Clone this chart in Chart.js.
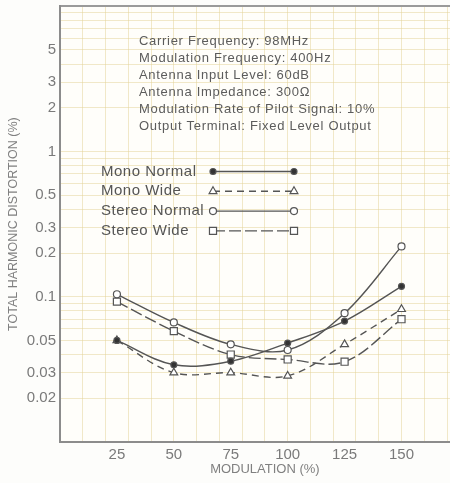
<!DOCTYPE html>
<html lang="en">
<head>
<meta charset="UTF-8" />
<title>Total Harmonic Distortion vs Modulation</title>
<script src="https://cdn.jsdelivr.net/npm/chart.js"></script>
<style>
  html, body { margin: 0; padding: 0; background: #fdfdfb; overflow: hidden; }
  .wrap { width: 476px; height: 483px; }
</style>
</head>
<body>
<div class="wrap"><canvas id="thd" width="476" height="483"></canvas></div>
<script>
  // values (THD in %)
  const modulation   = [25, 50, 75, 100, 125, 150];
  const monoNormal   = [0.050, 0.034, 0.036, 0.048, 0.068, 0.118];
  const monoWide     = [0.050, 0.030, 0.030, 0.0285, 0.047, 0.082];
  const stereoNormal = [0.104, 0.0665, 0.047, 0.043, 0.077, 0.222];
  const stereoWide   = [0.0925, 0.058, 0.040, 0.037, 0.0357, 0.070];

  const seriesNames = ['Mono Normal', 'Mono Wide', 'Stereo Normal', 'Stereo Wide'];
  const xTickLabels = [25, 50, 75, 100, 125, 150];
  const yTickLabels = [5, 3, 2, 1, 0.5, 0.3, 0.2, 0.1, 0.05, 0.03, 0.02];

  const conditions = [
    'Carrier Frequency: 98MHz',
    'Modulation Frequency: 400Hz',
    'Antenna Input Level: 60dB',
    'Antenna Impedance: 300\u03A9',
    'Modulation Rate of Pilot Signal: 10%',
    'Output Terminal: Fixed Level Output'
  ];

  const FONT = '"Liberation Sans", Arial, sans-serif';
  const lineCol = '#555';
  const gridCol = 'rgba(228, 210, 150, 0.5)';

  const toPoints = vals => modulation.map((m, i) => ({ x: m, y: vals[i] }));

  const styles = [
    { pointStyle: 'circle',   radius: 3,   fill: '#333', dash: [] },
    { pointStyle: 'triangle', radius: 4.5, fill: '#fff', dash: [7, 5] },
    { pointStyle: 'circle',   radius: 3.5, fill: '#fff', dash: [] },
    { pointStyle: 'rect',     radius: 5,   fill: '#fff', dash: [12, 4] }
  ];

  const datasets = [monoNormal, monoWide, stereoNormal, stereoWide].map((vals, i) => ({
    label: seriesNames[i],
    data: toPoints(vals),
    borderColor: lineCol,
    borderWidth: 1.4,
    borderDash: styles[i].dash,
    tension: 0.35,
    pointStyle: styles[i].pointStyle,
    pointRadius: styles[i].radius,
    pointBackgroundColor: styles[i].fill,
    pointBorderColor: lineCol,
    pointBorderWidth: 1.2
  }));

  function isLabelled(v, list) {
    return list.some(t => Math.abs(v - t) / t < 1e-6);
  }

  function marker(ctx, st, x, y) {
    ctx.fillStyle = st.fill;
    ctx.strokeStyle = lineCol;
    ctx.lineWidth = 1.2;
    ctx.setLineDash([]);
    if (Chart.helpers && typeof Chart.helpers.drawPoint === 'function') {
      Chart.helpers.drawPoint(ctx, { pointStyle: st.pointStyle, radius: st.radius, borderWidth: 1.2, rotation: 0 }, x, y);
    } else {
      ctx.beginPath(); ctx.arc(x, y, st.radius, 0, Math.PI * 2); ctx.fill(); ctx.stroke();
    }
  }

  const plotBg = {
    id: 'plotBg',
    beforeDraw(chart) {
      const a = chart.chartArea, ctx = chart.ctx;
      ctx.save();
      ctx.fillStyle = '#fffefa';
      ctx.fillRect(a.left, a.top, a.right - a.left, a.bottom - a.top);
      ctx.restore();
    }
  };

  // condition text block and the legend drawn inside the plot
  const notes = {
    id: 'notes',
    afterDatasetsDraw(chart) {
      const ctx = chart.ctx;
      ctx.save();
      ctx.textBaseline = 'middle';
      ctx.textAlign = 'left';
      ctx.fillStyle = '#5c5c5c';
      ctx.font = '13px ' + FONT;
      ctx.letterSpacing = '0.7px';
      conditions.forEach((t, i) => ctx.fillText(t, 139, 41 + i * 17));

      ctx.font = '15px ' + FONT;
      ctx.letterSpacing = '0.5px';
      seriesNames.forEach((name, i) => {
        const y = 171.5 + i * 19.8;
        ctx.fillStyle = '#555';
        ctx.fillText(name, 101, y);
        ctx.strokeStyle = lineCol;
        ctx.lineWidth = 1.4;
        ctx.setLineDash(styles[i].dash);
        ctx.beginPath(); ctx.moveTo(213, y); ctx.lineTo(294, y); ctx.stroke();
        marker(ctx, styles[i], 213, y);
        marker(ctx, styles[i], 294, y);
      });
      ctx.restore();
    }
  };

  new Chart(document.getElementById('thd'), {
    type: 'line',
    data: { datasets },
    options: {
      responsive: false,
      animation: false,
      layout: { padding: { top: 2, right: 0, left: 0, bottom: 0 } },
      plugins: { legend: { display: false }, tooltip: { enabled: false } },
      scales: {
        x: {
          type: 'linear',
          min: 0,
          max: 180,
          afterFit: s => { s.height = 41; s.paddingLeft = 0; s.paddingRight = 0; },
          ticks: {
            stepSize: 5,
            autoSkip: false,
            maxRotation: 0,
            padding: 4,
            color: '#7a7a7a',
            font: { family: FONT, size: 15 },
            callback: v => xTickLabels.includes(v) ? String(v) : ''
          },
          grid: {
            drawTicks: false,
            color: c => (c.tick && c.tick.value % 10 === 0) ? gridCol : 'rgba(0,0,0,0)'
          },
          border: { display: true, color: '#8c8c8c', width: 2 },
          title: {
            display: true,
            text: 'MODULATION (%)',
            color: '#808080',
            font: { family: FONT, size: 13 },
            padding: { top: 0, bottom: 6 }
          }
        },
        y: {
          type: 'logarithmic',
          min: 0.01,
          max: 10,
          afterFit: s => { s.width = 60; s.paddingTop = 0; s.paddingBottom = 0; },
          afterBuildTicks: s => {
            const t = [];
            [0.01, 0.1, 1].forEach(d => {
              for (let k = 1; k <= 9; k++) t.push({ value: Number((k * d).toPrecision(3)) });
            });
            t.push({ value: 10 });
            s.ticks = t;
          },
          ticks: {
            autoSkip: false,
            padding: 4,
            color: '#7a7a7a',
            font: { family: FONT, size: 15 },
            callback: v => isLabelled(v, yTickLabels) ? String(v) : ''
          },
          grid: {
            drawTicks: false,
            color: c => (c.tick && c.tick.value === 10) ? '#9a9a9a' : gridCol,
            lineWidth: c => (c.tick && c.tick.value === 10) ? 2 : 1
          },
          border: { display: true, color: '#8c8c8c', width: 2 },
          title: {
            display: true,
            text: 'TOTAL HARMONIC DISTORTION (%)',
            color: '#808080',
            font: { family: FONT, size: 12.5 },
            padding: { top: 6, bottom: 0 }
          }
        }
      }
    },
    plugins: [plotBg, notes]
  });
</script>
</body>
</html>
